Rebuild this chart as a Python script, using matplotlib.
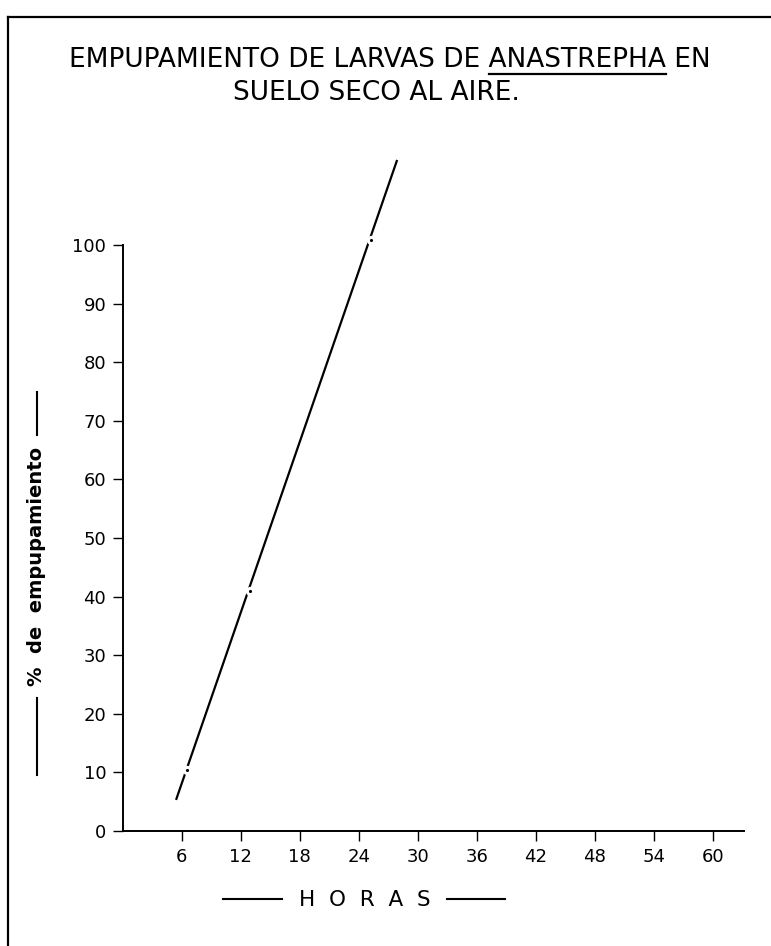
import matplotlib.pyplot as plt
import matplotlib as mpl
from matplotlib.lines import Line2D

mpl.rcParams.update({
    'font.family': 'DejaVu Sans',
    'xtick.direction': 'out',
    'ytick.direction': 'out',
    'xtick.major.size': 7,
    'ytick.major.size': 7,
    'xtick.major.width': 1.0,
    'ytick.major.width': 1.0,
})

# Observed points (hours, % pupation)
hours = [6.5, 12.9, 25.2]
pupation = [10.4, 41.0, 100.9]

# Fitted straight line, as drawn
fit_hours = [5.4, 27.9]
fit_pupation = [5.3, 114.5]

x_ticks = [6, 12, 18, 24, 30, 36, 42, 48, 54, 60]
y_ticks = [0, 10, 20, 30, 40, 50, 60, 70, 80, 90, 100]

W, H = 771, 946
fig = plt.figure(figsize=(W / 100, H / 100), dpi=100)
ax = fig.add_axes([0.1595, 0.1216, 0.8055, 0.6195])

ax.plot(fit_hours, fit_pupation, color='black', linewidth=1.6, clip_on=False,
        solid_capstyle='butt')
ax.plot(hours, pupation, linestyle='none', marker='o', markersize=4.5,
        markerfacecolor='black', markeredgecolor='white', markeredgewidth=2.2,
        clip_on=False)

ax.set_xlim(0, 63.2)
ax.set_ylim(0, 100)
ax.set_xticks(x_ticks)
ax.set_yticks(y_ticks)
ax.tick_params(axis='both', labelsize=13, pad=5)

for side in ['top', 'right']:
    ax.spines[side].set_visible(False)
for side in ['left', 'bottom']:
    ax.spines[side].set_linewidth(1.4)


def px(x, y):
    # pixel position (from top-left) -> figure fraction
    return x / W, 1 - y / H


def hline(x0, x1, y, lw=1.5):
    (a, b), (c, _) = px(x0, y), px(x1, y)
    fig.add_artist(Line2D([a, c], [b, b], color='black', linewidth=lw))


def vline(x, y0, y1, lw=1.5):
    (a, b), (_, d) = px(x, y0), px(x, y1)
    fig.add_artist(Line2D([a, a], [b, d], color='black', linewidth=lw))


# Axis labels with dash decorations
fig.text(*px(37, 566), '%  de  empupamiento', rotation=90, fontsize=14,
         fontweight='bold', ha='center', va='center')
vline(37, 392, 435)
vline(37, 698, 775)

fig.text(*px(365, 900), 'H  O  R  A  S', fontsize=15.5, ha='center', va='center')
hline(223, 282, 899)
hline(447, 505, 899)

# Title with underlined genus name
t1 = 'EMPUPAMIENTO DE LARVAS DE ANASTREPHA EN'
head = 'EMPUPAMIENTO DE LARVAS DE ANASTREPHA'
word = 'ANASTREPHA'
title_size = 19
txt = fig.text(*px(390, 67), t1, fontsize=title_size, ha='center', va='baseline')
fig.text(*px(376, 100), 'SUELO SECO AL AIRE.', fontsize=title_size,
         ha='center', va='baseline')

renderer = fig.canvas.get_renderer()
full_bb = txt.get_window_extent(renderer)
tmp1 = fig.text(0, 0, head, fontsize=title_size)
tmp2 = fig.text(0, 0, word, fontsize=title_size)
w_head = tmp1.get_window_extent(renderer).width
w_word = tmp2.get_window_extent(renderer).width
tmp1.remove()
tmp2.remove()
x_end = full_bb.x0 + w_head
x_start = x_end - w_word
hline(x_start, x_end, 74, lw=1.6)

# Page frame (left and top edges)
vline(8, 17, H, lw=1.6)
hline(8, W, 17, lw=1.6)

fig.savefig('out.png', dpi=100)
